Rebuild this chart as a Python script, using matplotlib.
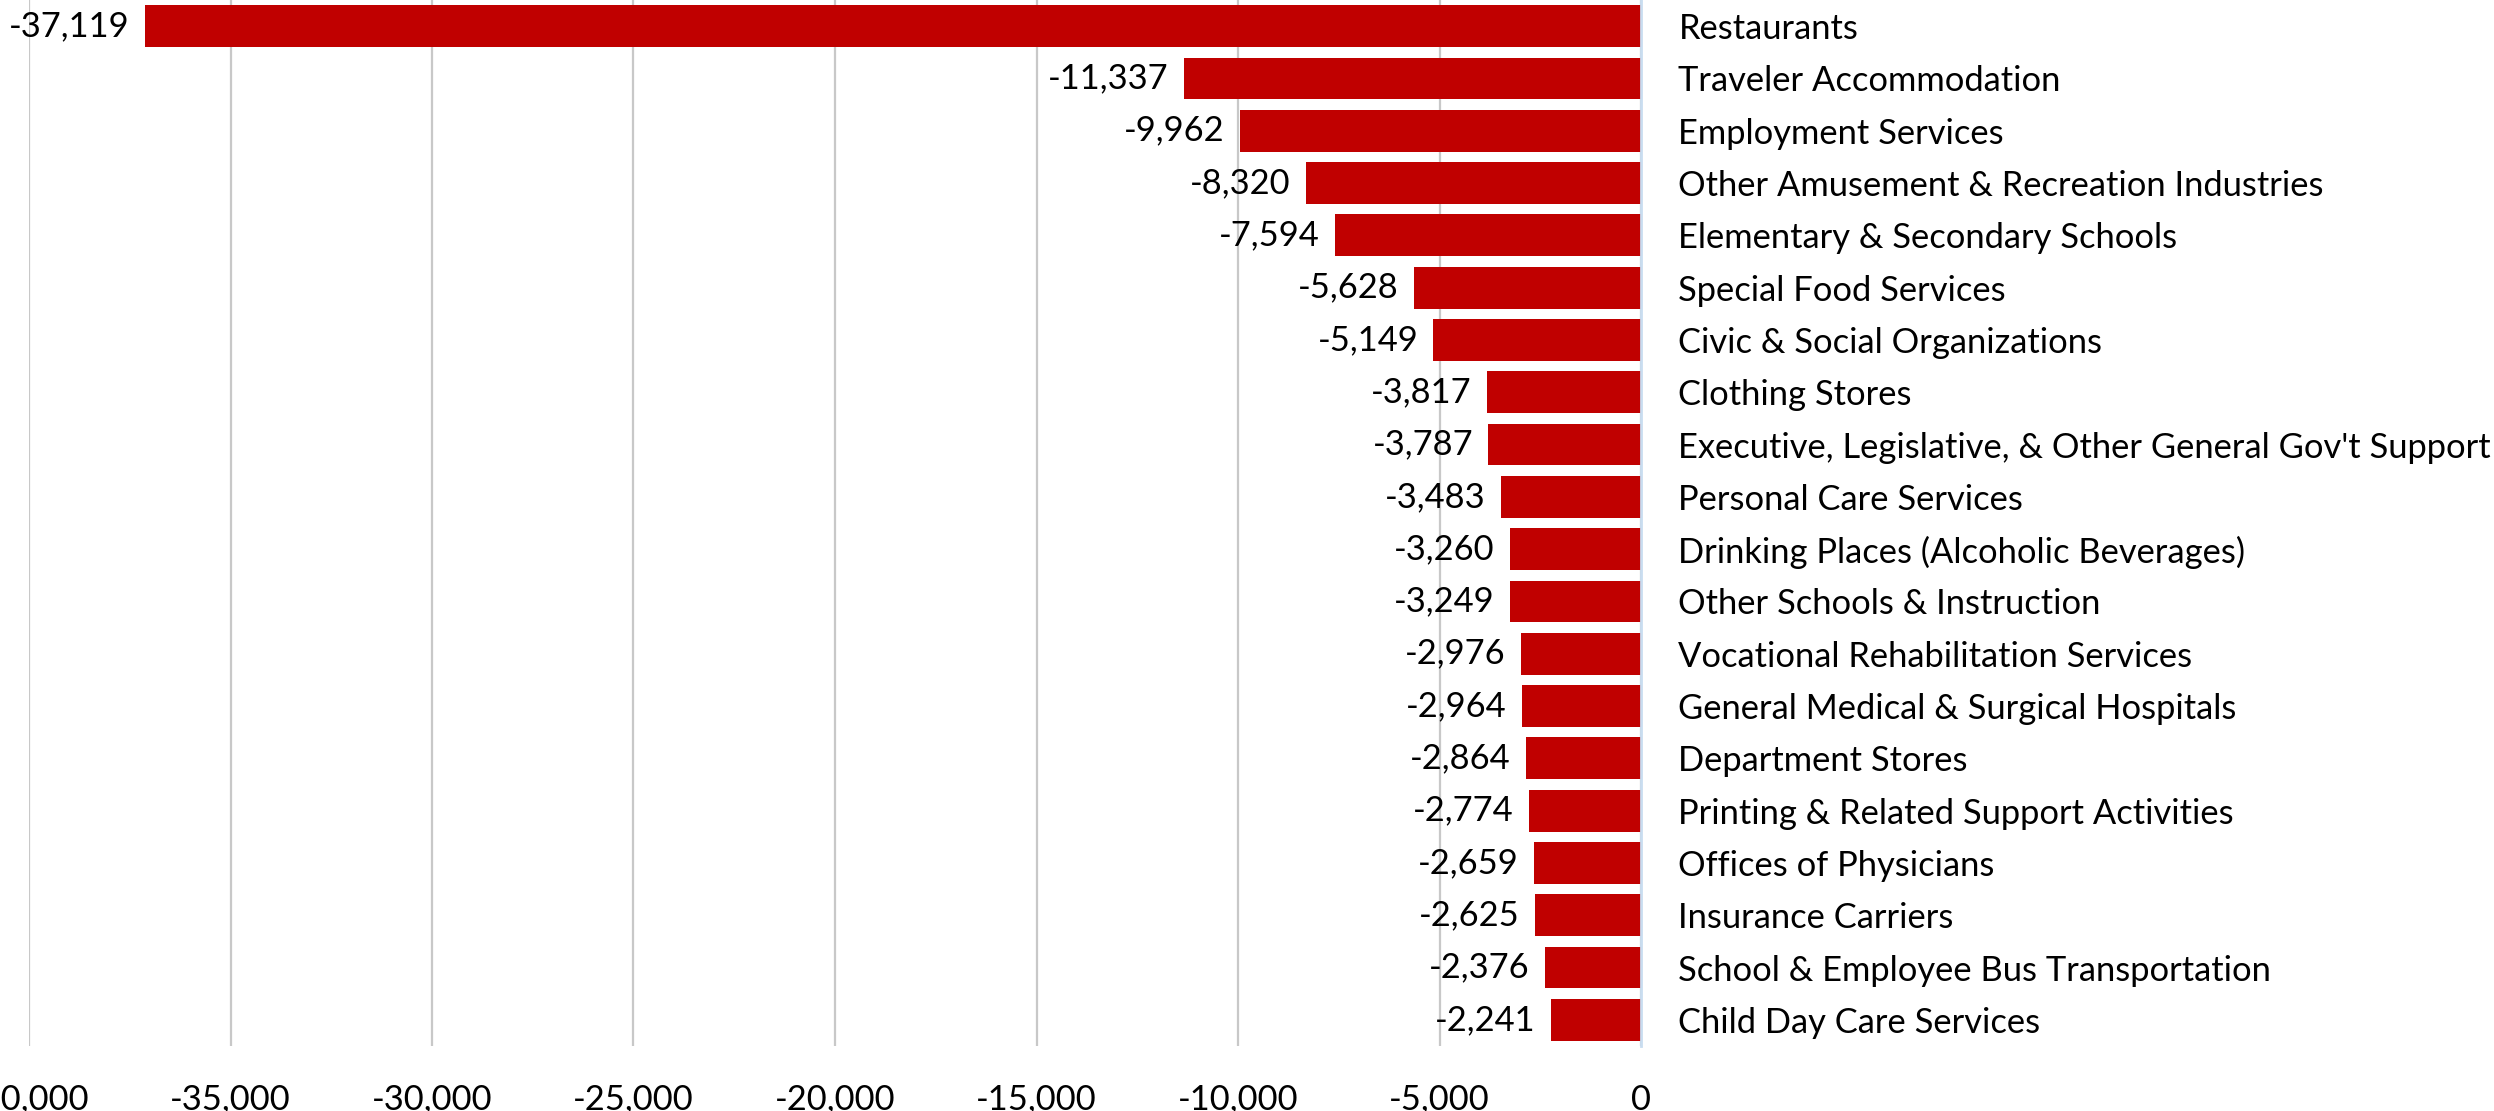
import matplotlib
matplotlib.use("Agg")
import matplotlib.pyplot as plt
from matplotlib.ticker import FuncFormatter, MultipleLocator

categories = [
    "Restaurants",
    "Traveler Accommodation",
    "Employment Services",
    "Other Amusement & Recreation Industries",
    "Elementary & Secondary Schools",
    "Special Food Services",
    "Civic & Social Organizations",
    "Clothing Stores",
    "Executive, Legislative, & Other General Gov't Support",
    "Personal Care Services",
    "Drinking Places (Alcoholic Beverages)",
    "Other Schools & Instruction",
    "Vocational Rehabilitation Services",
    "General Medical & Surgical Hospitals",
    "Department Stores",
    "Printing & Related Support Activities",
    "Offices of Physicians",
    "Insurance Carriers",
    "School & Employee Bus Transportation",
    "Child Day Care Services",
]
job_change = [
    -37119, -11337, -9962, -8320, -7594, -5628, -5149, -3817, -3787, -3483,
    -3260, -3249, -2976, -2964, -2864, -2774, -2659, -2625, -2376, -2241,
]

FONT = ["Lato", "DejaVu Sans"]
FS = 24.8
plt.rcParams["font.family"] = FONT

fig = plt.figure(figsize=(24.94, 11.11), dpi=100)
ax = fig.add_axes([29 / 2494, 1 - 1046 / 1111, (1641 - 29) / 2494, 1046 / 1111])

pos = list(range(len(categories)))
bars = ax.barh(pos, job_change, height=0.8, color="#C00000", zorder=2)

ax.set_xlim(-40000, 0)
ax.set_ylim(len(categories) - 0.5, -0.5)

ax.xaxis.set_major_locator(MultipleLocator(5000))
ax.xaxis.set_major_formatter(FuncFormatter(lambda v, p: f"{v:,.0f}"))
ax.grid(axis="x", color="#C8C8C8", linewidth=1.6, zorder=0)
ax.tick_params(axis="x", length=0, pad=27, labelsize=FS, colors="black")

ax.yaxis.tick_right()
ax.set_yticks(pos)
ax.set_yticklabels(categories)
ax.tick_params(axis="y", length=0, pad=27, labelsize=FS, colors="black")

for side in ("top", "bottom", "left"):
    ax.spines[side].set_visible(False)
ax.spines["right"].set_color("#C9DDF0")
ax.spines["right"].set_linewidth(2)
ax.spines["right"].set_zorder(3)

for b, v in zip(bars, job_change):
    ax.annotate(f"{v:,.0f}", xy=(v, b.get_y() + b.get_height() / 2),
                xytext=(-11, 0), textcoords="offset points",
                ha="right", va="center", fontsize=FS, color="black")

fig.savefig("out.png", dpi=100)
